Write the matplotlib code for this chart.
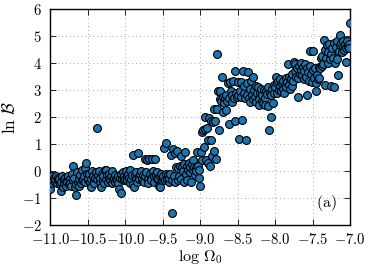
import matplotlib
matplotlib.use('Agg')
import matplotlib.pyplot as plt
from matplotlib.ticker import FuncFormatter
import numpy as np

plt.rcParams['mathtext.fontset'] = 'cm'
plt.rcParams['font.family'] = 'serif'
plt.rcParams['font.serif'] = ['DejaVu Serif']

# segment -11.0 .. -10.5
seg_a_x = [-11.00, -10.99, -10.98, -10.97, -10.96, -10.95, -10.94, -10.93, -10.92, -10.91,
           -10.90, -10.89, -10.88, -10.87, -10.86, -10.85, -10.84, -10.83, -10.82, -10.81,
           -10.80, -10.79, -10.78, -10.77, -10.76, -10.75, -10.74, -10.73, -10.72, -10.71,
           -10.70, -10.69, -10.68, -10.67, -10.66, -10.65, -10.64, -10.63, -10.62, -10.61,
           -10.60, -10.59, -10.58, -10.57, -10.56, -10.55, -10.54, -10.53, -10.52, -10.51]
seg_a_y = [-0.65, -0.30, -0.45, -0.20, -0.35, -0.25, -0.40, -0.30, -0.20, -0.45,
           -0.35, -0.25, -0.30, -0.50, -0.40, -0.75, -0.20, -0.60, -0.45, -0.30,
           -0.25, -0.55, -0.35, -0.40, -0.20, -0.50, -0.30, -0.45, -0.55, -0.10,
           0.20, -0.35, -0.25, -0.60, -0.90, -0.50, -0.05, -0.40, -0.30, -0.55,
           -0.15, -0.45, -0.35, 0.05, -0.30, -0.20, -0.40, 0.10, 0.30, -0.10]

# segment -10.5 .. -10.0
seg_b_x = [-10.50, -10.49, -10.48, -10.47, -10.46, -10.45, -10.44, -10.43, -10.42, -10.41,
           -10.40, -10.39, -10.38, -10.37, -10.36, -10.35, -10.34, -10.33, -10.32, -10.31,
           -10.30, -10.29, -10.28, -10.27, -10.26, -10.25, -10.24, -10.23, -10.22, -10.21,
           -10.20, -10.19, -10.18, -10.17, -10.16, -10.15, -10.14, -10.13, -10.12, -10.11,
           -10.10, -10.09, -10.08, -10.07, -10.06, -10.05, -10.04, -10.03, -10.02, -10.01]
seg_b_y = [-0.35, -0.25, -0.10, -0.40, -0.30, -0.60, 0.00, -0.20, -0.35, -0.45,
           -0.25, -0.05, 1.60, -0.30, -0.15, 0.00, -0.40, -0.25, -0.60, -0.10,
           -0.35, -0.20, -0.45, 0.05, -0.30, 0.05, -0.15, -0.40, -0.25, -0.10,
           -0.35, -0.20, -0.45, 0.00, -0.30, -0.25, -0.40, -0.15, -0.30, -0.35,
           -0.20, -0.45, -0.65, -0.25, -0.80, -0.10, -0.30, -0.05, -0.35, -0.20]

# segment -10.0 .. -9.5
seg_c_x = [-10.00, -9.99, -9.98, -9.97, -9.96, -9.95, -9.94, -9.93, -9.92, -9.91,
           -9.90, -9.89, -9.88, -9.87, -9.86, -9.85, -9.84, -9.83, -9.82, -9.81,
           -9.80, -9.79, -9.78, -9.77, -9.76, -9.75, -9.74, -9.73, -9.72, -9.71,
           -9.70, -9.69, -9.68, -9.67, -9.66, -9.65, -9.64, -9.63, -9.62, -9.61,
           -9.60, -9.59, -9.58, -9.57, -9.56, -9.55, -9.54, -9.53, -9.52, -9.51]
seg_c_y = [-0.30, 0.00, -0.20, -0.35, -0.10, -0.25, -0.45, 0.05, -0.30, -0.15,
           0.60, -0.50, -0.60, -0.15, -0.30, -0.05, -0.40, 0.68, -0.20, -0.30,
           -0.10, 0.00, -0.35, -0.25, -0.15, -0.40, 0.45, -0.20, -0.05, 0.40,
           -0.30, -0.45, 0.45, -0.10, -0.25, -0.35, 0.45, 0.00, -0.20, -0.40,
           0.45, -0.15, -0.30, -0.05, -0.25, -0.55, -0.60, -0.20, -0.10, -0.35]

# segment -9.5 .. -9.0
seg_d_x = [-9.50, -9.49, -9.48, -9.47, -9.46, -9.45, -9.44, -9.43, -9.42, -9.41,
           -9.40, -9.39, -9.38, -9.37, -9.36, -9.35, -9.34, -9.33, -9.32, -9.31,
           -9.30, -9.29, -9.28, -9.27, -9.26, -9.25, -9.24, -9.23, -9.22, -9.21,
           -9.20, -9.19, -9.18, -9.17, -9.16, -9.15, -9.14, -9.13, -9.12, -9.11,
           -9.10, -9.09, -9.08, -9.07, -9.06, -9.05, -9.04, -9.03, -9.02, -9.01]
seg_d_y = [-0.25, -0.20, 0.85, -0.35, -0.10, 1.05, -0.30, -0.15, -0.40, -0.25,
           -0.10, 0.60, -0.35, -1.55, 0.80, -0.20, 0.65, -0.40, 0.15, 0.75,
           -0.35, 0.10, -0.20, 0.20, 0.55, -0.30, 0.15, 0.00, -0.40, 0.25,
           0.70, -0.10, 0.20, -0.35, 0.05, 0.30, -0.05, 0.15, -0.40, 0.25,
           0.05, 0.40, 0.15, -0.15, 0.10, 0.00, 0.70, 0.20, 0.05, -0.25]

# segment -9.0 .. -8.5 (the jump)
seg_e_x = [-9.00, -8.99, -8.98, -8.97, -8.96, -8.95, -8.94, -8.93, -8.92, -8.91,
           -8.90, -8.89, -8.88, -8.87, -8.86, -8.85, -8.84, -8.83, -8.82, -8.81,
           -8.80, -8.79, -8.78, -8.77, -8.76, -8.75, -8.74, -8.73, -8.72, -8.71,
           -8.70, -8.69, -8.68, -8.67, -8.66, -8.65, -8.64, -8.63, -8.62, -8.61,
           -8.60, -8.59, -8.58, -8.57, -8.56, -8.55, -8.54, -8.53, -8.52, -8.51]
seg_e_y = [-0.55, 0.70, 1.45, 0.40, 1.50, 0.90, 2.00, 1.55, 0.40, 1.60,
           1.15, 0.30, 1.95, 0.20, 1.15, 1.85, 0.55, 1.80, 0.75, 2.30,
           1.85, 0.45, 2.30, 4.35, 2.95, 1.50, 2.65, 2.95, 2.60, 3.50,
           2.75, 2.20, 2.50, 2.70, 2.25, 2.80, 2.60, 3.25, 1.75, 2.70,
           3.30, 2.95, 2.55, 2.80, 3.35, 2.70, 1.85, 3.70, 2.90, 2.75]

# segment -8.5 .. -8.0
seg_f_x = [-8.50, -8.49, -8.48, -8.47, -8.46, -8.45, -8.44, -8.43, -8.42, -8.41,
           -8.40, -8.39, -8.38, -8.37, -8.36, -8.35, -8.34, -8.33, -8.32, -8.31,
           -8.30, -8.29, -8.28, -8.27, -8.26, -8.25, -8.24, -8.23, -8.22, -8.21,
           -8.20, -8.19, -8.18, -8.17, -8.16, -8.15, -8.14, -8.13, -8.12, -8.11,
           -8.10, -8.09, -8.08, -8.07, -8.06, -8.05, -8.04, -8.03, -8.02, -8.01]
seg_f_y = [3.30, 2.80, 1.20, 2.95, 3.30, 2.75, 1.90, 3.70, 2.90, 3.15,
           2.70, 1.15, 3.25, 2.80, 3.65, 2.70, 3.05, 2.55, 3.35, 2.80,
           3.50, 2.65, 3.00, 2.75, 3.15, 2.55, 2.90, 3.10, 2.65, 2.45,
           2.90, 3.05, 2.60, 2.80, 2.50, 3.00, 2.70, 2.45, 2.95, 2.85,
           3.10, 2.40, 1.50, 2.90, 2.00, 2.80, 3.05, 2.50, 3.20, 2.90]

# segment -8.0 .. -7.5
seg_g_x = [-8.00, -7.99, -7.98, -7.97, -7.96, -7.95, -7.94, -7.93, -7.92, -7.91,
           -7.90, -7.89, -7.88, -7.87, -7.86, -7.85, -7.84, -7.83, -7.82, -7.81,
           -7.80, -7.79, -7.78, -7.77, -7.76, -7.75, -7.74, -7.73, -7.72, -7.71,
           -7.70, -7.69, -7.68, -7.67, -7.66, -7.65, -7.64, -7.63, -7.62, -7.61,
           -7.60, -7.59, -7.58, -7.57, -7.56, -7.55, -7.54, -7.53, -7.52, -7.51]
seg_g_y = [3.10, 3.50, 3.25, 2.90, 3.35, 3.00, 3.15, 3.40, 2.95, 3.25,
           3.05, 3.35, 2.90, 3.20, 3.45, 3.10, 3.30, 3.95, 3.20, 3.50,
           3.05, 3.40, 3.15, 3.60, 3.35, 4.05, 3.70, 3.95, 3.50, 3.80,
           3.45, 2.75, 3.90, 3.60, 3.75, 4.00, 3.55, 3.85, 3.40, 3.70,
           3.95, 3.50, 3.80, 2.80, 3.65, 3.35, 3.90, 4.45, 3.60, 3.30]

# segment -7.5 .. -7.0
seg_h_x = [-7.50, -7.49, -7.48, -7.47, -7.46, -7.45, -7.44, -7.43, -7.42, -7.41,
           -7.40, -7.39, -7.38, -7.37, -7.36, -7.35, -7.34, -7.33, -7.32, -7.31,
           -7.30, -7.29, -7.28, -7.27, -7.26, -7.25, -7.24, -7.23, -7.22, -7.21,
           -7.20, -7.19, -7.18, -7.17, -7.16, -7.15, -7.14, -7.13, -7.12, -7.11,
           -7.10, -7.09, -7.08, -7.07, -7.06, -7.05, -7.04, -7.03, -7.02, -7.01, -7.00]
seg_h_y = [3.75, 4.45, 3.45, 3.80, 3.25, 2.95, 3.55, 3.40, 3.85, 3.45,
           3.80, 4.20, 3.90, 4.25, 3.95, 4.85, 4.50, 3.20, 4.20, 4.65,
           4.00, 4.40, 4.70, 4.15, 4.35, 3.15, 4.55, 4.20, 3.10, 4.75,
           4.00, 4.60, 4.15, 4.80, 3.55, 4.45, 5.05, 4.65, 4.75, 4.40,
           4.60, 4.80, 4.50, 4.70, 4.05, 4.55, 4.80, 4.60, 4.70, 4.55, 5.50]

log_omega = seg_a_x + seg_b_x + seg_c_x + seg_d_x + seg_e_x + seg_f_x + seg_g_x + seg_h_x
ln_b = seg_a_y + seg_b_y + seg_c_y + seg_d_y + seg_e_y + seg_f_y + seg_g_y + seg_h_y

x_ticks = [-11.0, -10.5, -10.0, -9.5, -9.0, -8.5, -8.0, -7.5, -7.0]
y_ticks = [-2, -1, 0, 1, 2, 3, 4, 5, 6]

fig = plt.figure(figsize=(3.74, 2.65), dpi=100)
ax = fig.add_axes([0.134, 0.151, 0.802, 0.815])

ax.scatter(log_omega, ln_b, s=32, c='#1f74b0', edgecolors='black', linewidths=0.8, zorder=3)

ax.set_xlim(-11, -7)
ax.set_ylim(-2, 6)
ax.set_xticks(x_ticks)
ax.set_yticks(y_ticks)
ax.xaxis.set_major_formatter(FuncFormatter(lambda v, p: '$%.1f$' % v))
ax.yaxis.set_major_formatter(FuncFormatter(lambda v, p: '$%d$' % v))
ax.tick_params(direction='in', top=True, right=True, length=4, width=0.6, labelsize=10.6)
ax.tick_params(axis='x', pad=5)
ax.tick_params(axis='y', pad=6)
ax.grid(True, linestyle=(0, (1, 3)), color='#aaaaaa', linewidth=0.7)
ax.set_axisbelow(True)
for sp in ax.spines.values():
    sp.set_linewidth(1.0)

ax.set_xlabel(r'$\log\,\Omega_0$', fontsize=11.5, labelpad=0.5)
ax.set_ylabel(r'$\ln\,\mathcal{B}$', fontsize=12.5, labelpad=2)
ax.text(0.955, 0.055, r'$\mathrm{(a)}$', transform=ax.transAxes, ha='right', va='bottom', fontsize=11.5)

fig.savefig('out.png', dpi=100)
